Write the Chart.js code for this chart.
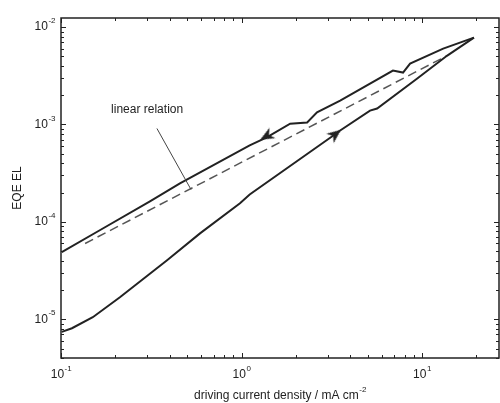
<!DOCTYPE html>
<html>
<head>
<meta charset="utf-8">
<script src="https://cdn.jsdelivr.net/npm/chart.js@4/dist/chart.umd.min.js"></script>
<style>
  html, body { margin: 0; padding: 0; background: #fff; }
  #wrap { width: 500px; height: 403px; }
</style>
</head>
<body>
<div id="wrap"><canvas id="myChart"></canvas></div>
<script>
// Curva de regreso (corriente decreciente)
const upperX = [0.101, 0.164, 0.311, 0.456, 1.11, 1.38, 1.86, 2.31, 2.62, 3.52, 6.90, 7.85, 8.59, 13.1, 19.4];
const upperY = [4.9e-5, 8.2e-5, 1.62e-4, 2.48e-4, 6.09e-4, 7.36e-4, 1.02e-3, 1.05e-3, 1.33e-3, 1.76e-3, 3.58e-3, 3.41e-3, 4.22e-3, 6.01e-3, 7.80e-3];

// Curva de ida (corriente creciente)
const lowerX = [0.101, 0.115, 0.150, 0.212, 0.387, 0.589, 0.981, 1.11, 3.17, 3.52, 5.15, 5.64, 9.37, 13.8, 19.4];
const lowerY = [7.41e-6, 8.09e-6, 1.05e-5, 1.68e-5, 4.03e-5, 7.62e-5, 1.55e-4, 1.91e-4, 7.53e-4, 8.68e-4, 1.39e-3, 1.46e-3, 2.95e-3, 5.1e-3, 7.80e-3];

// Relacion lineal (linea discontinua)
const linearX = [0.136, 13.8];
const linearY = [6.0e-5, 5.1e-3];

// Flechas de direccion
const arrowX = [1.38, 3.3];
const arrowY = [7.6e-4, 7.9e-4];
const arrowRot = [241, 52];

// Etiquetas de los ejes
const xTickVals = [0.1, 1, 10];
const xTickExp = ['-1', '0', '1'];
const yTickVals = [1e-5, 1e-4, 1e-3, 1e-2];
const yTickExp = ['-5', '-4', '-3', '-2'];

// Anotacion "linear relation"
const noteText = 'linear relation';
const noteAt = { x: 0.30, y: 1.43e-3 };
const notePointer = [{ x: 0.340, y: 9.1e-4 }, { x: 0.525, y: 2.15e-4 }];

const toPoints = (xs, ys) => xs.map((x, i) => ({ x: x, y: ys[i] }));

const FONT = 'Liberation Sans, Arial, sans-serif';
const INK = '#222';

// punta de flecha (apunta hacia arriba, se gira con rotation)
const arrowHead = document.createElement('canvas');
arrowHead.width = 13;
arrowHead.height = 15;
(function () {
    const c = arrowHead.getContext('2d');
    c.fillStyle = INK;
    c.beginPath();
    c.moveTo(6.5, 0);
    c.lineTo(12.5, 14);
    c.lineTo(6.5, 10);
    c.lineTo(0.5, 14);
    c.closePath();
    c.fill();
})();

function drawPower(ctx, base, exp, x, y, align) {
    ctx.font = '12px ' + FONT;
    const wb = ctx.measureText(base).width;
    ctx.font = '8px ' + FONT;
    const we = ctx.measureText(exp).width;
    let left = x;
    if (align === 'center') left = x - (wb + we) / 2;
    if (align === 'right') left = x - (wb + we);
    ctx.textAlign = 'left';
    ctx.textBaseline = 'middle';
    ctx.font = '12px ' + FONT;
    ctx.fillText(base, left, y);
    ctx.font = '8px ' + FONT;
    ctx.fillText(exp, left + wb + 0.5, y - 6);
}

const framePlugin = {
    id: 'frame',
    afterDraw(chart) {
        const { ctx, chartArea: a, scales } = chart;
        const sx = scales.x, sy = scales.y;
        ctx.save();
        ctx.strokeStyle = INK;
        ctx.fillStyle = INK;

        // marco
        ctx.lineWidth = 1.5;
        ctx.strokeRect(a.left, a.top, a.right - a.left, a.bottom - a.top);

        // marcas hacia dentro
        ctx.lineWidth = 1;
        ctx.beginPath();
        for (let d = -2; d <= 2; d++) {
            for (let m = 1; m <= 9; m++) {
                const v = m * Math.pow(10, d);
                if (v >= sx.min && v <= sx.max) {
                    const px = Math.round(sx.getPixelForValue(v)) + 0.5;
                    const len = m === 1 ? 5 : 3;
                    ctx.moveTo(px, a.bottom); ctx.lineTo(px, a.bottom - len);
                    ctx.moveTo(px, a.top); ctx.lineTo(px, a.top + len);
                }
            }
        }
        for (let d = -6; d <= -1; d++) {
            for (let m = 1; m <= 9; m++) {
                const v = m * Math.pow(10, d);
                if (v >= sy.min && v <= sy.max) {
                    const py = Math.round(sy.getPixelForValue(v)) + 0.5;
                    const len = m === 1 ? 5 : 3;
                    ctx.moveTo(a.left, py); ctx.lineTo(a.left + len, py);
                    ctx.moveTo(a.right, py); ctx.lineTo(a.right - len, py);
                }
            }
        }
        ctx.stroke();

        // etiquetas de los ejes
        xTickVals.forEach((v, i) => {
            drawPower(ctx, '10', xTickExp[i], sx.getPixelForValue(v), a.bottom + 17, 'center');
        });
        yTickVals.forEach((v, i) => {
            drawPower(ctx, '10', yTickExp[i], a.left - 6, sy.getPixelForValue(v), 'right');
        });

        // titulo eje y
        ctx.save();
        ctx.translate(18, (a.top + a.bottom) / 2);
        ctx.rotate(-Math.PI / 2);
        ctx.font = '12px ' + FONT;
        ctx.textAlign = 'center';
        ctx.textBaseline = 'middle';
        ctx.fillText('EQE EL', 0, 0);
        ctx.restore();

        // titulo eje x
        const title = 'driving current density / mA cm';
        ctx.font = '12px ' + FONT;
        const wt = ctx.measureText(title).width;
        ctx.font = '8px ' + FONT;
        const we = ctx.measureText('-2').width;
        const cx = (a.left + a.right) / 2;
        const tl = cx - (wt + we) / 2;
        ctx.textAlign = 'left';
        ctx.textBaseline = 'middle';
        ctx.font = '12px ' + FONT;
        ctx.fillText(title, tl, 396);
        ctx.font = '8px ' + FONT;
        ctx.fillText('-2', tl + wt + 0.5, 390);

        // anotacion
        ctx.font = '12px ' + FONT;
        ctx.textAlign = 'center';
        ctx.fillText(noteText, sx.getPixelForValue(noteAt.x), sy.getPixelForValue(noteAt.y));
        const p0x = sx.getPixelForValue(notePointer[0].x), p0y = sy.getPixelForValue(notePointer[0].y);
        const p1x = sx.getPixelForValue(notePointer[1].x), p1y = sy.getPixelForValue(notePointer[1].y);
        ctx.lineWidth = 1;
        ctx.strokeStyle = '#444';
        ctx.beginPath();
        ctx.moveTo(p0x, p0y);
        ctx.lineTo(p1x, p1y);
        ctx.stroke();

        ctx.restore();
    }
};

const chartData = {
    datasets: [
        {
            label: 'return',
            data: toPoints(upperX, upperY),
            borderColor: INK,
            borderWidth: 2,
            pointRadius: 0,
            tension: 0
        },
        {
            label: 'forward',
            data: toPoints(lowerX, lowerY),
            borderColor: INK,
            borderWidth: 2,
            pointRadius: 0,
            tension: 0
        },
        {
            label: 'linear relation',
            data: toPoints(linearX, linearY),
            borderColor: '#555',
            borderWidth: 1.5,
            borderDash: [9, 5],
            pointRadius: 0
        },
        {
            label: 'arrows',
            data: toPoints(arrowX, arrowY),
            showLine: false,
            pointStyle: arrowHead,
            pointRadius: 6,
            rotation: arrowRot
        }
    ]
};

new Chart(document.getElementById('myChart').getContext('2d'), {
    type: 'line',
    data: chartData,
    options: {
        responsive: true,
        maintainAspectRatio: false,
        animation: false,
        layout: { autoPadding: false, padding: { left: 61, top: 18, right: 1, bottom: 45 } },
        plugins: {
            legend: { display: false },
            tooltip: { enabled: false }
        },
        scales: {
            x: { type: 'logarithmic', min: 0.1, max: 26.7, display: false },
            y: { type: 'logarithmic', min: 4e-6, max: 0.0124, display: false }
        }
    },
    plugins: [framePlugin]
});
</script>
</body>
</html>
